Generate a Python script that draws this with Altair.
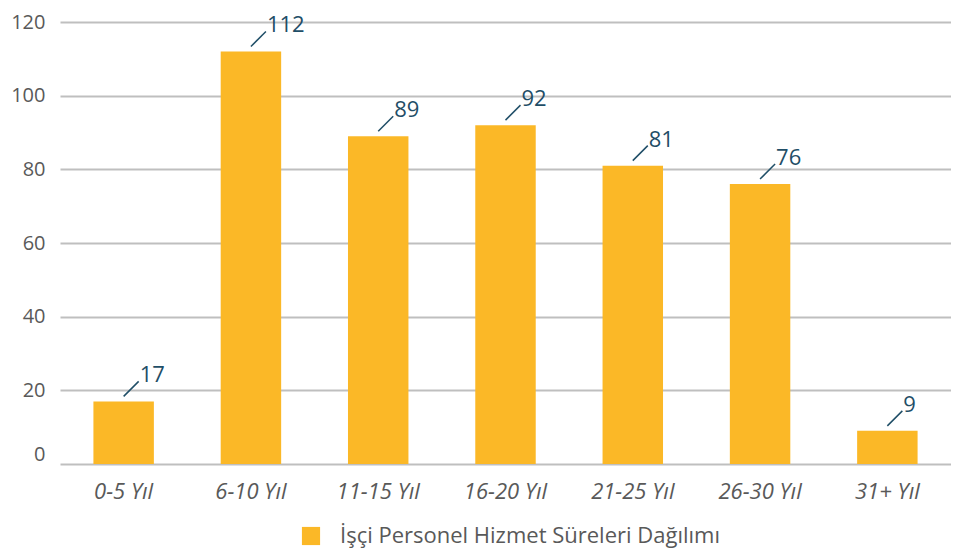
import altair as alt
import pandas as pd

categories = ["0-5 Yıl", "6-10 Yıl", "11-15 Yıl", "16-20 Yıl", "21-25 Yıl", "26-30 Yıl", "31+ Yıl"]
values = [17, 112, 89, 92, 81, 76, 9]
series_name = "İşçi Personel Hizmet Süreleri Dağılımı"
y_ticks = [0, 20, 40, 60, 80, 100, 120]

df = pd.DataFrame({"cat": categories, "val": values, "series": [series_name] * len(categories)})

BAR = "#FBB827"
TEAL = "#1F4E67"
GREY = "#595959"
FONT = "Open Sans"

x = alt.X(
    "cat:N",
    sort=categories,
    scale=alt.Scale(paddingInner=0.525, paddingOuter=0.2625),
    axis=alt.Axis(
        title=None, labelAngle=0, labelFont=FONT, labelFontStyle="italic",
        labelFontSize=22, labelColor=GREY, labelPadding=17,
        domain=False, ticks=False, grid=False,
    ),
)
y = alt.Y(
    "val:Q",
    scale=alt.Scale(domain=[0, 120], nice=False),
    axis=alt.Axis(
        title=None, values=y_ticks, labelFont=FONT, labelFontSize=20,
        labelColor=GREY, labelPadding=15, domain=False, ticks=False,
        gridColor="#BFBFBF", gridWidth=2,
        labelBaseline={"condition": {"test": "datum.value == 0", "value": "bottom"}, "value": "middle"},
    ),
)

base = alt.Chart(df)

bars = base.mark_bar().encode(
    x=x,
    y=y,
    color=alt.Color(
        "series:N",
        scale=alt.Scale(range=[BAR]),
        legend=alt.Legend(
            title=None, orient="none", legendX=240, legendY=503,
            symbolType="square", symbolSize=330, symbolStrokeWidth=0,
            labelFont=FONT, labelFontSize=22, labelColor=GREY, labelOffset=18,
            labelLimit=0,
        ),
    ),
)

leaders = base.mark_rule(
    color=TEAL, strokeWidth=1.5, xOffset=0, x2Offset=15, yOffset=-5, y2Offset=-20
).encode(x=x, x2=alt.X2("cat"), y=y, y2=alt.Y2("val"))

labels = base.mark_text(
    align="left", baseline="alphabetic", dx=16, dy=-19,
    font=FONT, fontSize=22, color=TEAL,
).encode(x=x, y=y, text="val:Q")

chart = (
    alt.layer(bars, leaders, labels)
    .properties(
        width=891, height=442,
        autosize=alt.AutoSizeParams(type="none"),
        padding={"left": 52, "top": 14, "right": 0, "bottom": 88},
    )
    .configure_view(stroke=None)
)

chart.save("out.html", embed_options={"renderer": "svg", "actions": False})
